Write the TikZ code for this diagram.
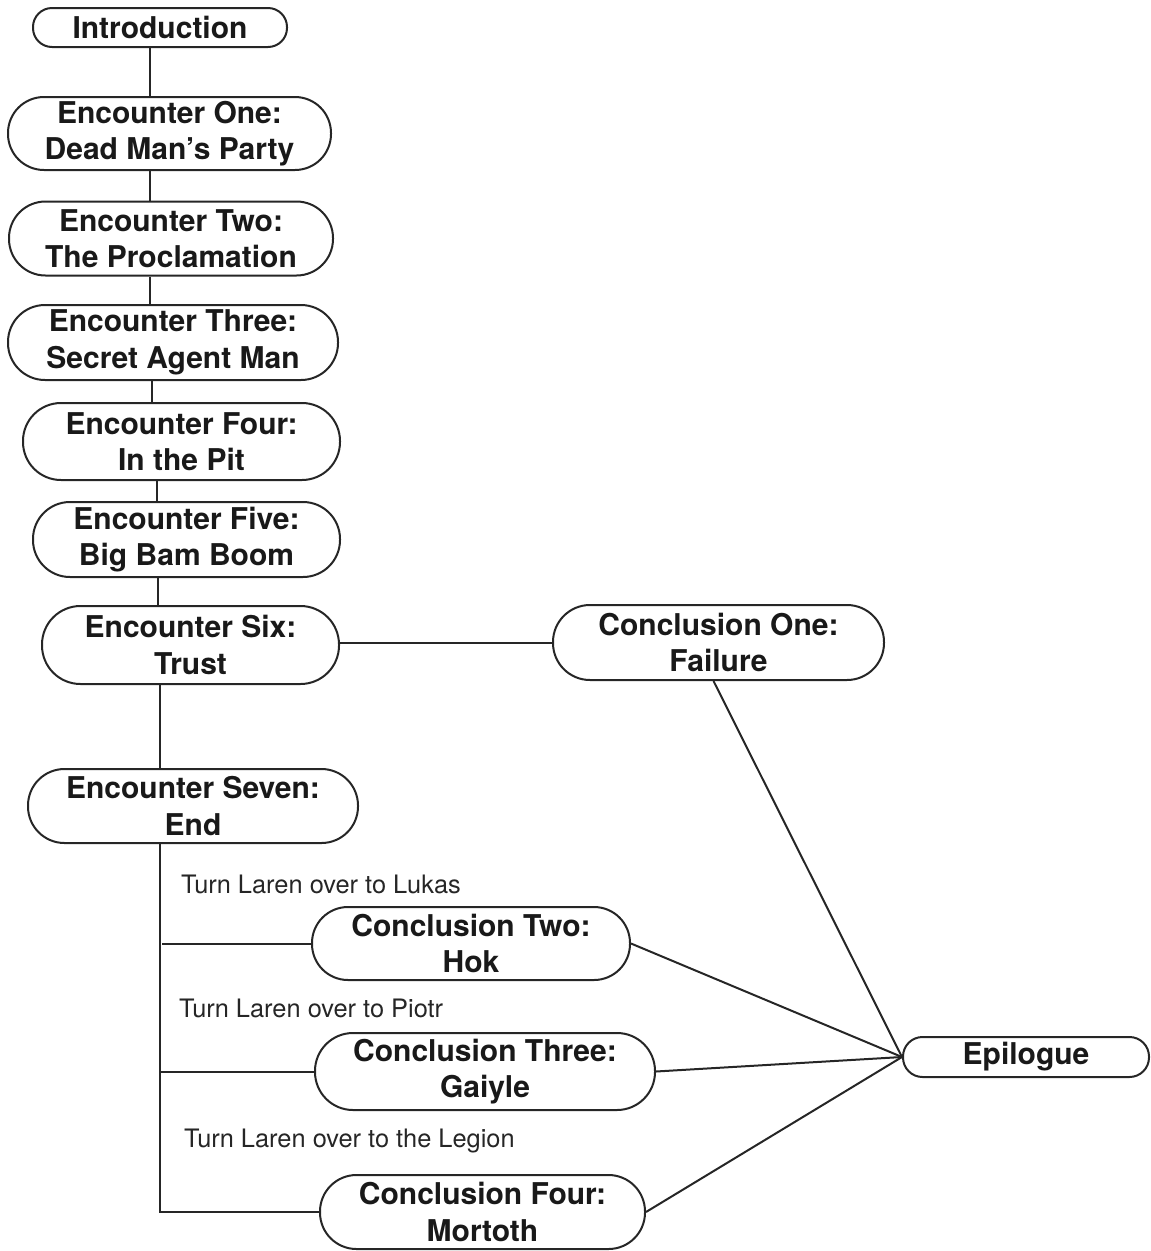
\documentclass[tikz,border=0pt]{standalone}
\usepackage{fontspec}
\setmainfont{TeX Gyre Heros}
\begin{document}
\begin{tikzpicture}[x=1pt,y=-1pt,
  line width=2pt, draw=black!85,
  pill/.style 2 args={draw=black!85, line width=2pt, rectangle, rounded corners=#2/2-0.5pt,
    minimum width=#1, minimum height=#2, inner sep=0pt, align=center,
    font=\bfseries\fontsize{30}{36.5}\selectfont, text=black!90},
  lbl/.style={anchor=west, inner sep=0pt, font=\fontsize{25.4}{28}\selectfont, text=black!85},
  conn/.style={draw=black!85, line width=2pt}]
\useasboundingbox (0,0) rectangle (1151,1251);
\node[pill={254pt}{39pt}] (intro) at (160,27.5) {Introduction};
\node[pill={323pt}{73pt}] (e1) at (169.5,133.5) {Encounter One:\\Dead Man’s Party};
\node[pill={324pt}{74pt}] (e2) at (171,238.5) {Encounter Two:\\The Proclamation};
\node[pill={330pt}{75pt}] (e3) at (173,342.5) {Encounter Three:\\Secret Agent Man};
\node[pill={317pt}{77pt}] (e4) at (181.5,441.5) {Encounter Four:\\In the Pit};
\node[pill={307pt}{75pt}] (e5) at (186.5,539.5) {Encounter Five:\\Big Bam Boom};
\node[pill={297pt}{78pt}] (e6) at (190.5,645) {Encounter Six:\\Trust};
\node[pill={331pt}{75pt}] (c1) at (718.5,642.5) {Conclusion One:\\Failure};
\node[pill={330pt}{74pt}] (e7) at (193,806) {Encounter Seven:\\End};
\node[pill={318pt}{73pt}] (c2) at (471,943.5) {Conclusion Two:\\Hok};
\node[pill={340pt}{77pt}] (c3) at (485,1071.5) {Conclusion Three:\\Gaiyle};
\node[pill={325pt}{74pt}] (c4) at (482.5,1212) {Conclusion Four:\\Mortoth};
\node[pill={246pt}{40pt}] (epi) at (1026,1057) {Epilogue};

\node[lbl] (l2) at (180,884) {Turn Laren over to Lukas};
\node[lbl] (l3) at (178,1008) {Turn Laren over to Piotr};
\node[lbl] (l4) at (183,1141) {Turn Laren over to the Legion};

\coordinate (b7) at (160,1212);
\draw[conn] (intro.south -| 150,0) -- (e1.north -| 150,0);
\draw[conn] (e1.south -| 150,0) -- (e2.north -| 150,0);
\draw[conn] (e2.south -| 150,0) -- (e3.north -| 150,0);
\draw[conn] (e3.south -| 152,0) -- (e4.north -| 152,0);
\draw[conn] (e4.south -| 157,0) -- (e5.north -| 157,0);
\draw[conn] (e5.south -| 158,0) -- (e6.north -| 158,0);
\draw[conn] (e6.south -| 160,0) -- (e7.north -| 160,0);
\draw[conn] (c1.west -| e6.east) -- (c1.west);
\draw[conn] (e7.south -| 160,0) -- (b7) -- (c4.west);
\draw[conn] (c2.west -| 162,0) -- (c2.west);
\draw[conn] (c3.west -| 160,0) -- (c3.west);
\draw[conn] ([xshift=-5pt]c1.south) -- (epi.west);
\draw[conn] (c2.east) -- (epi.west);
\draw[conn] (c3.east) -- (epi.west);
\draw[conn] (c4.east) -- (epi.west);
\end{tikzpicture}
\end{document}
